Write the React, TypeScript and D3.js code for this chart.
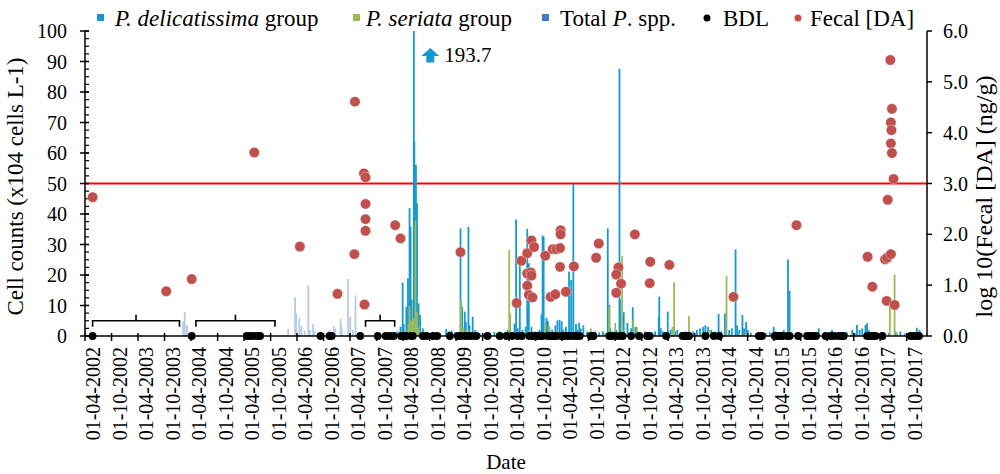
import React from 'react';
import * as d3 from 'd3';

// sampling dates are decimal years
const delYears = [2008.14, 2008.20, 2008.24, 2008.26, 2008.31, 2008.34, 2008.37, 2008.39, 2008.41, 2008.45, 2008.46, 2008.49, 2008.51, 2008.54, 2008.57, 2008.62, 2008.69, 2008.79, 2008.94, 2009.06, 2009.11, 2009.16, 2009.22, 2009.33, 2009.36, 2009.41, 2009.43, 2009.48, 2009.50, 2009.56, 2009.61, 2009.69, 2009.78, 2009.88, 2009.97, 2010.07, 2010.16, 2010.22, 2010.35, 2010.38, 2010.41, 2010.45, 2010.50, 2010.56, 2010.59, 2010.62, 2010.67, 2010.74, 2010.82, 2010.86, 2010.88, 2010.90, 2010.95, 2010.98, 2011.01, 2011.06, 2011.12, 2011.16, 2011.20, 2011.24, 2011.27, 2011.32, 2011.38, 2011.42, 2011.46, 2011.51, 2011.54, 2011.57, 2011.60, 2011.65, 2011.72, 2011.80, 2011.87, 2011.95, 2012.02, 2012.11, 2012.14, 2012.16, 2012.21, 2012.27, 2012.33, 2012.34, 2012.41, 2012.48, 2012.55, 2012.58, 2012.63, 2012.67, 2012.74, 2012.81, 2012.93, 2013.00, 2013.07, 2013.08, 2013.11, 2013.15, 2013.24, 2013.29, 2013.33, 2013.38, 2013.42, 2013.49, 2013.57, 2013.64, 2013.72, 2013.79, 2013.85, 2013.91, 2013.95, 2014.00, 2014.06, 2014.14, 2014.20, 2014.25, 2014.32, 2014.40, 2014.45, 2014.52, 2014.55, 2014.59, 2014.65, 2014.68, 2014.72, 2014.75, 2014.81, 2014.91, 2015.00, 2015.09, 2015.17, 2015.24, 2015.28, 2015.35, 2015.43, 2015.51, 2015.54, 2015.58, 2015.68, 2015.77, 2015.87, 2015.98, 2016.09, 2016.22, 2016.34, 2016.43, 2016.53, 2016.62, 2016.72, 2016.77, 2016.81, 2016.86, 2016.91, 2016.97, 2017.00, 2017.03, 2017.13, 2017.22, 2017.32, 2017.41, 2017.54, 2017.63, 2017.71, 2017.81, 2017.88, 2017.94, 2017.99];
const delValues = [1.5, 3.0, 17.5, 4.0, 9.6, 18.9, 41.9, 35.8, 12.0, 193.7, 63.7, 56.1, 43.6, 10.7, 6.9, 2.5, 1.2, 0.8, 1.0, 2.3, 1.5, 1.8, 1.2, 35.3, 9.6, 8.0, 4.7, 35.8, 3.5, 6.3, 2.0, 1.0, 0.8, 1.0, 1.3, 1.5, 1.2, 2.0, 4.0, 38.2, 2.5, 23.3, 2.0, 3.0, 35.1, 23.8, 3.0, 1.5, 2.0, 7.1, 32.9, 32.6, 6.0, 5.0, 3.0, 2.0, 3.5, 5.1, 5.3, 4.8, 2.0, 3.0, 21.1, 18.4, 49.8, 4.0, 2.0, 4.3, 2.5, 3.5, 1.5, 1.0, 1.5, 1.2, 1.5, 35.3, 10.2, 2.5, 1.5, 2.0, 87.6, 11.8, 7.8, 4.3, 2.5, 9.4, 3.0, 1.2, 1.0, 1.5, 1.0, 1.5, 6.3, 12.9, 2.5, 1.5, 8.0, 2.0, 2.5, 1.5, 2.0, 1.2, 1.5, 1.0, 1.5, 2.0, 2.5, 3.0, 3.5, 3.0, 2.0, 1.5, 7.2, 1.5, 7.4, 2.0, 2.5, 28.4, 3.5, 2.0, 6.9, 2.5, 4.6, 2.0, 1.0, 0.8, 1.0, 1.0, 1.2, 3.0, 1.5, 1.0, 2.0, 25.1, 14.8, 1.0, 0.8, 1.0, 0.8, 1.0, 2.5, 1.0, 2.0, 1.0, 1.0, 1.2, 2.0, 1.0, 3.6, 2.0, 2.5, 3.6, 4.2, 2.0, 1.0, 0.8, 1.0, 1.0, 1.5, 1.5, 0.8, 0.8, 1.0, 2.7, 2.0];

const serYears = [2008.30, 2008.35, 2008.37, 2008.40, 2008.43, 2008.45, 2008.48, 2008.51, 2008.54, 2008.58, 2009.34, 2009.38, 2009.43, 2009.48, 2010.25, 2010.27, 2010.39, 2010.61, 2010.93, 2011.00, 2011.15, 2011.23, 2011.61, 2011.79, 2012.06, 2012.14, 2012.25, 2012.38, 2012.42, 2012.59, 2012.66, 2012.89, 2013.33, 2013.36, 2013.64, 2013.93, 2014.04, 2014.35, 2014.58, 2014.72, 2015.43, 2015.53, 2016.09, 2016.71, 2017.43, 2017.52, 2017.57];
const serValues = [2.0, 4.0, 9.8, 5.0, 6.0, 5.5, 37.8, 8.0, 3.0, 1.0, 11.8, 3.0, 2.0, 2.0, 28.2, 7.4, 1.5, 2.0, 4.5, 3.5, 2.0, 1.0, 1.5, 2.5, 1.0, 9.6, 4.3, 26.2, 2.0, 5.2, 3.0, 0.8, 3.0, 17.6, 6.6, 1.0, 2.0, 19.7, 1.0, 1.0, 1.0, 1.5, 1.0, 1.0, 10.2, 20.2, 1.0];

const totYears = [2004.10, 2004.13, 2004.17, 2006.08, 2006.21, 2006.23, 2006.29, 2006.33, 2006.39, 2006.46, 2006.49, 2006.55, 2006.58, 2006.86, 2006.94, 2006.97, 2007.07, 2007.09, 2007.21, 2007.25, 2007.30, 2007.35];
const totValues = [4.7, 7.9, 3.6, 2.3, 12.7, 7.3, 5.8, 3.3, 1.8, 16.6, 2.0, 3.9, 1.5, 2.0, 3.3, 2.5, 5.6, 3.0, 18.7, 6.3, 2.0, 13.3];

const bdlYears = [2002.39, 2004.26, 2005.30, 2005.36, 2005.42, 2005.49, 2005.55, 2006.69, 2006.86, 2006.90, 2007.44, 2007.77, 2007.92, 2007.99, 2008.07, 2008.21, 2008.26, 2008.31, 2008.40, 2008.43, 2008.62, 2008.69, 2008.81, 2008.89, 2009.13, 2009.28, 2009.34, 2009.42, 2009.49, 2009.55, 2009.63, 2009.84, 2010.07, 2010.20, 2010.30, 2010.41, 2010.49, 2010.63, 2010.69, 2010.76, 2010.82, 2010.88, 2010.98, 2011.04, 2011.09, 2011.14, 2011.23, 2011.29, 2011.35, 2011.38, 2011.46, 2011.52, 2011.58, 2011.79, 2011.84, 2012.14, 2012.18, 2012.26, 2012.34, 2012.39, 2012.55, 2012.70, 2012.85, 2012.90, 2013.21, 2013.52, 2013.56, 2013.60, 2013.64, 2013.95, 2014.11, 2014.21, 2014.96, 2015.02, 2015.26, 2015.32, 2015.37, 2015.41, 2015.50, 2015.54, 2015.70, 2015.87, 2015.94, 2015.98, 2016.04, 2016.22, 2016.31, 2016.38, 2016.47, 2016.53, 2016.56, 2017.00, 2017.05, 2017.10, 2017.16, 2017.29, 2017.82, 2017.88, 2017.94, 2017.98];

// fecal DA, log10 (ng/g), right axis
const daYears = [2002.39, 2003.78, 2004.26, 2005.44, 2006.30, 2007.01, 2007.33, 2007.34, 2007.51, 2007.54, 2007.54, 2007.54, 2007.54, 2007.52, 2008.10, 2008.20, 2009.33, 2010.39, 2010.48, 2010.59, 2010.67, 2010.72, 2010.59, 2010.66, 2010.67, 2010.59, 2010.62, 2010.69, 2010.93, 2011.07, 2011.14, 2011.21, 2011.22, 2011.22, 2011.21, 2011.03, 2011.12, 2011.32, 2011.47, 2011.89, 2011.94, 2012.31, 2012.27, 2012.36, 2012.27, 2012.62, 2012.91, 2012.90, 2013.27, 2014.48, 2015.67, 2017.01, 2017.10, 2017.37, 2017.34, 2017.38, 2017.45, 2017.39, 2017.44, 2017.47, 2017.45, 2017.46, 2017.45, 2017.47, 2017.50, 2017.52];
const daValues = [2.73, 0.88, 1.12, 3.61, 1.76, 0.83, 1.61, 4.61, 3.20, 3.12, 2.60, 2.30, 2.07, 0.62, 2.18, 1.92, 1.65, 0.65, 1.48, 1.63, 1.88, 1.75, 1.23, 1.25, 1.19, 0.99, 0.81, 0.76, 1.58, 1.71, 1.71, 1.73, 2.08, 2.00, 1.36, 0.77, 0.82, 0.87, 1.37, 1.54, 1.82, 1.35, 1.21, 1.03, 0.85, 2.00, 1.46, 1.04, 1.40, 0.77, 2.18, 1.56, 0.97, 0.69, 1.51, 1.54, 1.61, 2.68, 5.43, 4.47, 4.20, 4.05, 3.79, 3.60, 3.09, 0.61];

// periods marked with brackets
const bracketStart = [2002.39, 2004.34, 2007.54];
const bracketEnd = [2004.03, 2005.83, 2008.09];

const limitLog = 3.0;
const leftTicks = [0, 10, 20, 30, 40, 50, 60, 70, 80, 90, 100];
const rightTicks = [0, 1, 2, 3, 4, 5, 6];

const W = 1000;
const H = 474;
const M = { left: 85, right: 73, top: 31, bottom: 138 };
const FONT = 'Liberation Serif, Tinos, Times New Roman, DejaVu Serif, serif';

const C_DEL = '#1599cf';
const C_SER = '#9bbb59';
const C_TOT = '#b7cbe8';
const C_TOT_KEY = '#3d7cc9';
const C_DA = '#c0504d';

const toDate = (yr: number) => {
  const y = Math.floor(yr);
  const s = new Date(y, 0, 1).getTime();
  const e = new Date(y + 1, 0, 1).getTime();
  return new Date(s + (yr - y) * (e - s));
};

export default function App() {
  const x = d3.scaleTime()
    .domain([new Date(2002, 3, 1), new Date(2018, 1, 18)])
    .range([M.left, W - M.right]);
  const yL = d3.scaleLinear().domain([0, 100]).range([H - M.bottom, M.top]);
  const yR = d3.scaleLinear().domain([0, 6]).range([H - M.bottom, M.top]);

  const x0 = M.left, x1 = W - M.right, yb = H - M.bottom;
  const bw = 1.8;
  const xTicks = d3.timeMonth.range(new Date(2002, 3, 1), new Date(2017, 9, 2), 6);
  const fmt = d3.timeFormat('%d-%m-%Y');
  const minor = d3.range(0, 100.01, 2.5);

  const bars = (years: number[], values: number[], color: string) =>
    years.map((yr, i) => {
      const cx = x(toDate(yr));
      const top = yL(Math.min(values[i], 100));
      return <rect key={i} x={cx - bw / 2} y={top} width={bw} height={yb - top} fill={color} />;
    });

  // the one bar that runs off the top
  const peakIdx = delValues.indexOf(d3.max(delValues) as number);
  const px = x(toDate(delYears[peakIdx]));
  const ax = px + 16.5, ay = yL(100) + 17;

  return (
    <div style={{ position: 'absolute', left: 0, top: 0 }}>
      <svg width={W} height={H} fontFamily={FONT} style={{ display: 'block' }}>
        <rect width={W} height={H} fill="#fff" />

        {/* limit line */}
        <line x1={x0} x2={x1} y1={yR(limitLog)} y2={yR(limitLog)} stroke="#ff0000" strokeWidth={2} />

        <g>{bars(totYears, totValues, C_TOT)}</g>
        <g>{bars(delYears, delValues, C_DEL)}</g>
        <g>{bars(serYears, serValues, C_SER)}</g>

        {/* brackets */}
        {bracketStart.map((s, i) => {
          const a = x(toDate(s)), b = x(toDate(bracketEnd[i])), m = (a + b) / 2;
          const yy = yL(5.0);
          return (
            <path key={i} fill="none" stroke="#000" strokeWidth={1.6}
              d={`M${a},${yy + 6}V${yy}H${b}V${yy + 6}M${m},${yy}V${yy - 6}`} />
          );
        })}

        {/* axes */}
        <line x1={x0} x2={x0} y1={M.top} y2={yb} stroke="#000" strokeWidth={1.5} />
        <line x1={x1} x2={x1} y1={M.top} y2={yb} stroke="#000" strokeWidth={1.5} />
        <line x1={x0} x2={x1} y1={yb} y2={yb} stroke="#000" strokeWidth={1.5} />

        {minor.map(v => (
          <line key={'m' + v} x1={x0} x2={x0 + 4} y1={yL(v)} y2={yL(v)} stroke="#000" strokeWidth={1.2} />
        ))}
        {leftTicks.map(v => (
          <g key={'l' + v}>
            <line x1={x0 - 5} x2={x0 + 4} y1={yL(v)} y2={yL(v)} stroke="#000" strokeWidth={1.5} />
            <text x={67} y={yL(v)} dy="0.35em" textAnchor="end" fontSize={20}>{v}</text>
          </g>
        ))}
        {rightTicks.map(v => (
          <g key={'r' + v}>
            <line x1={x1} x2={x1 + 5} y1={yR(v)} y2={yR(v)} stroke="#000" strokeWidth={1.5} />
            <text x={943} y={yR(v)} dy="0.35em" fontSize={20}>{v.toFixed(1)}</text>
          </g>
        ))}
        {xTicks.map((d, i) => {
          const tx = x(d);
          return (
            <g key={'x' + i}>
              <line x1={tx} x2={tx} y1={yb - 3} y2={yb + 5} stroke="#000" strokeWidth={1.5} />
              <text transform={`translate(${tx + 8},${yb + 11}) rotate(-90)`} dy="0.35em" textAnchor="end" fontSize={20}>
                {fmt(d)}
              </text>
            </g>
          );
        })}

        {/* BDL */}
        {bdlYears.map((yr, i) => (
          <circle key={'b' + i} cx={x(toDate(yr))} cy={yb} r={3.9} fill="#000" />
        ))}

        {/* fecal DA */}
        {daYears.map((yr, i) => (
          <circle key={'d' + i} cx={x(toDate(yr))} cy={yR(daValues[i])} r={5.2} fill={C_DA}
            stroke="#fff" strokeOpacity={0.6} strokeWidth={0.6} />
        ))}

        {/* off-scale note */}
        <path d={`M${ax},${ay} l9,8 h-5 v6.5 h-8 v-6.5 h-5 Z`} fill={C_DEL} />
        <text x={ax + 14} y={ay + 7} dy="0.35em" fontSize={21}>{delValues[peakIdx]}</text>

        {/* titles */}
        <text transform={`translate(15,${(M.top + yb) / 2 + 3}) rotate(-90)`} textAnchor="middle" dy="0.35em" fontSize={23}>
          Cell counts (x104 cells L-1)
        </text>
        <text transform={`translate(984,${(M.top + yb) / 2 + 13}) rotate(-90)`} textAnchor="middle" dy="0.35em" fontSize={24}>
          log 10(Fecal [DA] (ng/g)
        </text>
        <text x={506} y={469} textAnchor="middle" fontSize={21}>Date</text>

        {/* legend */}
        <g fontSize={23}>
          <rect x={97} y={14} width={7} height={7} fill={C_DEL} />
          <text x={115} y={26}><tspan fontStyle="italic">P. delicatissima</tspan> group</text>
          <rect x={353} y={14} width={7} height={7} fill={C_SER} />
          <text x={366} y={26}><tspan fontStyle="italic">P. seriata</tspan> group</text>
          <rect x={542} y={14} width={7} height={7} fill={C_TOT_KEY} />
          <text x={560} y={26}>Total <tspan fontStyle="italic">P</tspan>. spp.</text>
          <circle cx={707} cy={18} r={3.5} fill="#000" />
          <text x={723} y={26}>BDL</text>
          <circle cx={798} cy={18} r={3.5} fill={C_DA} />
          <text x={810} y={26}>Fecal [DA]</text>
        </g>
      </svg>
    </div>
  );
}
